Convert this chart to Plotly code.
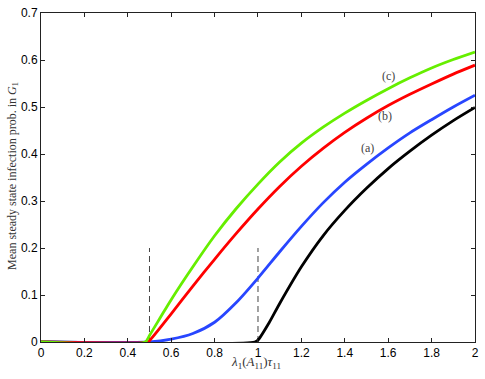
import plotly.graph_objects as go

# curve (c), green
x_c = [0, 0.48, 0.5, 0.55, 0.6, 0.7, 0.8, 0.9, 1.0, 1.1, 1.2, 1.3, 1.4, 1.5, 1.6, 1.7, 1.8, 1.9, 2.0]
y_c = [0, 0, 0.014, 0.052, 0.09, 0.16, 0.226, 0.284, 0.336, 0.383, 0.423, 0.457, 0.487, 0.514, 0.539, 0.562, 0.583, 0.601, 0.617]

# curve (b), red
x_b = [0, 0.49, 0.5, 0.6, 0.7, 0.8, 0.9, 1.0, 1.1, 1.2, 1.3, 1.4, 1.5, 1.6, 1.7, 1.8, 1.9, 2.0]
y_b = [0, 0, 0.003, 0.06, 0.119, 0.176, 0.231, 0.283, 0.331, 0.374, 0.412, 0.446, 0.476, 0.503, 0.527, 0.549, 0.57, 0.589]

# curve (a), blue
x_a = [0, 0.5, 0.6, 0.7, 0.8, 0.9, 1.0, 1.1, 1.2, 1.3, 1.4, 1.5, 1.6, 1.7, 1.8, 1.9, 2.0]
y_a = [0, 0, 0.006, 0.018, 0.042, 0.084, 0.136, 0.192, 0.246, 0.296, 0.34, 0.378, 0.413, 0.445, 0.473, 0.5, 0.525]

# unlabelled black curve
x_k = [0, 0.985, 1.0, 1.05, 1.1, 1.2, 1.3, 1.4, 1.5, 1.6, 1.7, 1.8, 1.9, 2.0]
y_k = [0, 0, 0.004, 0.04, 0.082, 0.16, 0.226, 0.28, 0.327, 0.369, 0.406, 0.44, 0.471, 0.499]

thresholds = [0.5, 1.0]
threshold_top = 0.2

labels = ["(c)", "(b)", "(a)"]
label_x = [1.6, 1.585, 1.505]
label_y = [0.567, 0.48, 0.413]

fig = go.Figure()

for xt in thresholds:
    fig.add_trace(go.Scatter(x=[xt, xt], y=[0, threshold_top], mode='lines',
                             line=dict(color='#444444', width=1, dash='6px,4px'),
                             showlegend=False, hoverinfo='skip'))

curves = [(x_k, y_k, 'black'), (x_a, y_a, '#2846ff'), (x_b, y_b, '#ff0000'), (x_c, y_c, '#66ee00')]
for xs, ys, col in curves:
    fig.add_trace(go.Scatter(x=xs, y=ys, mode='lines',
                             line=dict(color=col, width=2.8, shape='spline', smoothing=0.7),
                             showlegend=False))

for t, lx, ly in zip(labels, label_x, label_y):
    fig.add_annotation(x=lx, y=ly, text=t, showarrow=False,
                       font=dict(family='Liberation Serif', size=12, color='#444444'))

fig.add_annotation(xref='paper', yref='paper', x=-0.066, y=0.506, textangle=-90,
                   xanchor='center', yanchor='middle',
                   text='Mean steady state infection prob. in <i>G</i><sub>1</sub>',
                   showarrow=False, font=dict(family='Liberation Serif', size=12, color='#333333'))
fig.add_annotation(xref='paper', yref='paper', x=0.495, y=-0.062, xanchor='center', yanchor='middle',
                   text='<i>λ</i><sub>1</sub>(<i>A</i><sub>11</sub>)<i>τ</i><sub>11</sub>',
                   showarrow=False, font=dict(family='Liberation Serif', size=13, color='#333333'))

axis_style = dict(showline=True, linecolor='#222222', linewidth=1, mirror='ticks',
                  ticks='inside', ticklen=4, tickcolor='#222222', showgrid=False,
                  zeroline=False, tickfont=dict(family='Liberation Sans', size=12, color='black'))

fig.update_xaxes(range=[0, 2.0001], tickvals=[0, 0.2, 0.4, 0.6, 0.8, 1, 1.2, 1.4, 1.6, 1.8, 2],
                 ticktext=['0', '0.2', '0.4', '0.6', '0.8', '1', '1.2', '1.4', '1.6', '1.8', '2'],
                 **axis_style)
fig.update_yaxes(range=[0, 0.7], tickvals=[0, 0.1, 0.2, 0.3, 0.4, 0.5, 0.6, 0.7],
                 ticktext=['0', '0.1', '0.2', '0.3', '0.4', '0.5', '0.6', '0.7'],
                 **axis_style)

fig.update_layout(
    width=485,
    height=379,
    margin=dict(l=41, r=6, t=6, b=37),
    paper_bgcolor='white',
    plot_bgcolor='white',
)
# drop the default page margin so the figure sits at the window's corner
fig.write_html("out.html", config={'displayModeBar': False},
               post_script="document.body.style.margin='0';")
